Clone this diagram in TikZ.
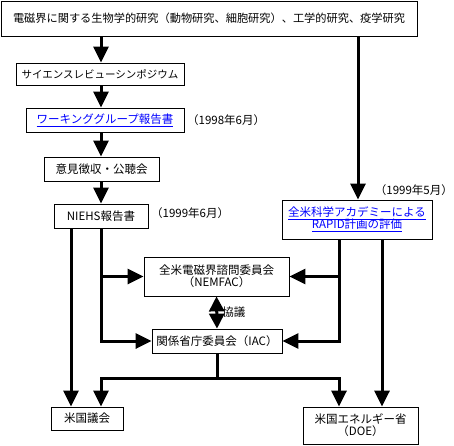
\documentclass[tikz,border=0pt]{standalone}
\usepackage{fontspec}
\setmainfont{Noto Sans CJK JP}
\usetikzlibrary{arrows.meta}
\definecolor{linkblue}{RGB}{0,0,255}
\begin{document}
\begin{tikzpicture}[x=1pt,y=-1pt,
  box/.style={draw,line width=0.8pt,inner sep=0pt,align=center,font=\fontsize{11.5}{13}\selectfont},
  lbl/.style={inner sep=0pt,font=\fontsize{11.5}{13}\selectfont},
  ln/.style={line width=3pt},
  arr/.style={line width=3pt,-{Triangle[width=15pt,length=16pt]}},
  darr/.style={line width=3pt,{Triangle[width=15pt,length=15pt]}-{Triangle[width=15pt,length=15pt]}},
  link/.style={text=linkblue}]
\path[use as bounding box] (0,0) rectangle (454,445);
% x positions of the vertical connectors
\coordinate (xA) at (71,0);
\coordinate (xB) at (101,0);
\coordinate (xD) at (339,0);
\coordinate (xE) at (358,0);
\coordinate (xF) at (382,0);
\coordinate (bar) at (0,378);
% boxes
\node[box,minimum width=416pt,minimum height=35pt,font=\fontsize{11.2}{13}\selectfont] (top) at (209,18.5) {電磁界に関する生物学的研究（動物研究、細胞研究）、工学的研究、疫学研究};
\node[box,minimum width=168pt,minimum height=22pt,font=\fontsize{10.5}{12}\selectfont] (sci) at (100,74) {サイエンスレビューシンポジウム};
\node[box,minimum width=158pt,minimum height=24pt,link] (wg) at (105,120) {\underline{ワーキンググループ報告書}};
\node[box,minimum width=115pt,minimum height=24pt] (iken) at (101.5,169) {意見徴収・公聴会};
\node[box,minimum width=94pt,minimum height=24pt] (niehs) at (101,216) {NIEHS報告書};
\node[box,minimum width=150pt,minimum height=39pt,link] (rapid) at (357,219.5) {\underline{全米科学アカデミーによる}\\[-1pt]\underline{RAPID計画の評価}};
\node[box,minimum width=145pt,minimum height=39pt] (nem) at (216.5,276.5) {全米電磁界諮問委員会\\[-1pt]（NEMFAC）};
\node[box,minimum width=130pt,minimum height=24pt] (iac) at (217,341) {関係省庁委員会（IAC）};
\node[box,minimum width=72pt,minimum height=23pt] (kokkai) at (87,418.5) {米国議会};
\node[box,minimum width=115pt,minimum height=37pt] (doe) at (360.5,425.5) {米国エネルギー省\\[-1pt]（DOE）};
% labels
\node[lbl,anchor=west] (d1) at (187,120) {（1998年6月）};
\node[lbl,anchor=west] (d2) at (151,213) {（1999年6月）};
\node[lbl,anchor=east] (d3) at (453,190) {（1999年5月）};
% connectors
\draw[arr] (top.south -| xB) -- (sci.north -| xB);
\draw[arr] (sci.south -| xB) -- (wg.north -| xB);
\draw[arr] (wg.south -| xB) -- (iken.north -| xB);
\draw[arr] (iken.south -| xB) -- (niehs.north -| xB);
\draw[arr] (top.south -| xE) -- (rapid.north -| xE);
\draw[arr] (niehs.south -| xA) -- (kokkai.north -| xA);
\draw[arr] (niehs.south -| xB) |- (iac.west);
\draw[arr] (xB |- nem.west) -- (nem.west);
\draw[arr] (rapid.south -| xD) |- (iac.east);
\draw[arr] (xD |- nem.east) -- (nem.east);
\draw[arr] (rapid.south -| xF) -- (doe.north -| xF);
\draw[darr] (nem.south) -- node[lbl,anchor=west,xshift=4pt] (kyogi) {協議} (iac.north);
\draw[ln] (iac.south) -- (iac.south |- bar);
\draw[arr] (iac.south |- bar) -| (kokkai.north -| xB);
\draw[arr] (iac.south |- bar) -| (doe.north -| xD);
\end{tikzpicture}
\end{document}
